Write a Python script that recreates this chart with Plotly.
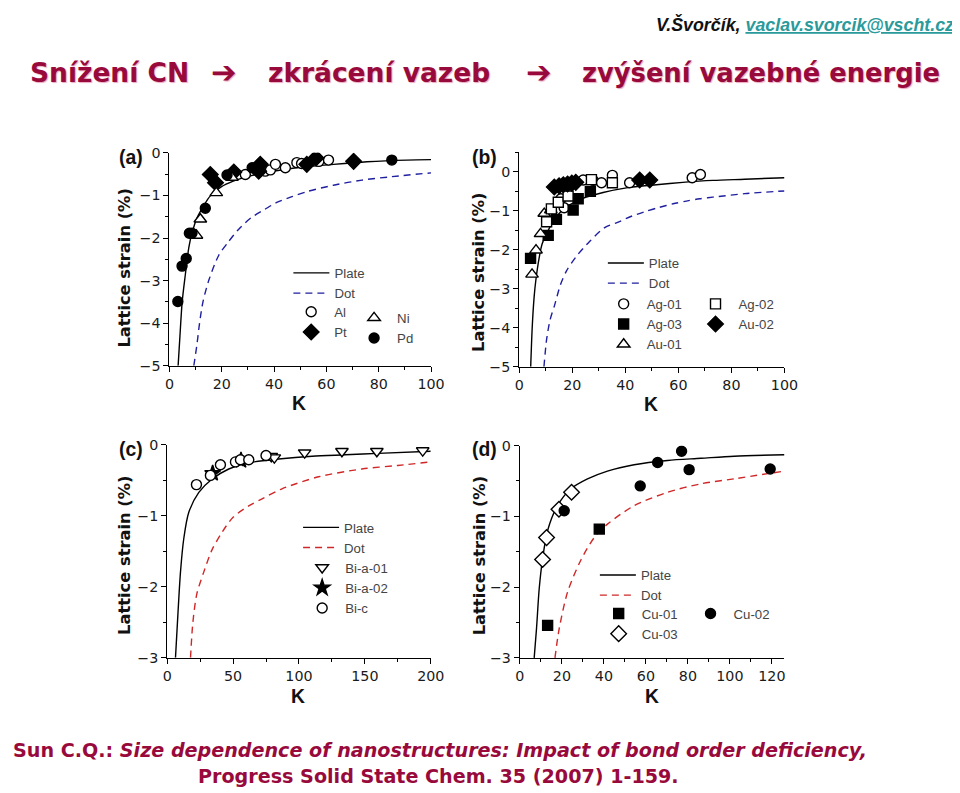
import plotly.graph_objects as go

# Calibration of the photographed page: measured screenshot = S * page + (OX, OY),
# and the page body has an 8px margin. Reference pixel positions are mapped
# back into figure (paper) coordinates with the helpers px / py below.
S, OX, OY, BODY = 0.982, 2.7, 8.3, 8
W, H = 968, 792

# ---------------- panel (a) ----------------
a_plate_k = [3.3, 4.0, 4.85, 6.1, 7.4, 8.66, 10.6, 13.1, 15.6, 19.5, 24.6, 30.9, 37.3, 50, 62.7, 75.5, 90.7, 100]
a_plate_s = [-5, -4.3, -3.5, -2.84, -2.22, -1.87, -1.52, -1.24, -1.01, -0.81, -0.66, -0.54, -0.46, -0.34, -0.27, -0.21, -0.17, -0.16]
a_dot_k = [9.3, 10.5, 11.5, 12.8, 15, 18.8, 22.4, 26.2, 31.3, 36.4, 40.8, 46.8, 52.6, 62.7, 73.6, 85, 100]
a_dot_s = [-5, -4.5, -4.0, -3.5, -3.0, -2.41, -2.1, -1.81, -1.52, -1.33, -1.17, -1.03, -0.91, -0.76, -0.64, -0.56, -0.47]
a_al_k = [29.0, 36.6, 38.6, 40.5, 44.3, 48.7, 50.5, 57.1, 60.8]
a_al_s = [-0.51, -0.43, -0.40, -0.27, -0.35, -0.23, -0.25, -0.20, -0.17]
a_ni_k = [10.3, 11.8, 17.9, 23.9]
a_ni_s = [-1.94, -1.56, -0.94, -0.58]
a_pt_k = [15.6, 17.6, 24.6, 34.1, 34.7, 52.5, 56.0, 70.4]
a_pt_s = [-0.51, -0.70, -0.45, -0.43, -0.27, -0.27, -0.12, -0.20]
a_pd_k = [3.2, 4.8, 6.4, 7.6, 8.6, 13.7, 22.0, 31.6, 33.5, 85.0]
a_pd_s = [-3.49, -2.66, -2.48, -1.89, -1.89, -1.30, -0.52, -0.35, -0.40, -0.17]

# ---------------- panel (b) ----------------
b_plate_k = [4.3, 4.9, 5.6, 6.2, 7.5, 8.6, 10.9, 14.0, 17.8, 24.0, 31.6, 40.4, 51.7, 61.7, 73.0, 85.0, 100]
b_plate_s = [-5, -3.95, -3.2, -2.8, -2.2, -1.85, -1.5, -1.15, -0.9, -0.68, -0.53, -0.41, -0.33, -0.27, -0.22, -0.19, -0.15]
b_dot_k = [9.3, 10.3, 11.6, 13.4, 15.5, 17.8, 21.6, 26.6, 32.2, 36.6, 42.3, 47.9, 52.9, 58.0, 63.0, 68.0, 73.0, 85.0, 100]
b_dot_s = [-5, -4.3, -3.8, -3.4, -2.9, -2.54, -2.16, -1.78, -1.43, -1.31, -1.14, -1.01, -0.91, -0.82, -0.75, -0.69, -0.65, -0.56, -0.49]
b_ag01_k = [15.7, 16.9, 24.1, 27.9, 31.0, 35.1, 41.6, 65.2, 68.3]
b_ag01_s = [-0.69, -0.92, -0.21, -0.22, -0.28, -0.09, -0.28, -0.15, -0.07]
b_ag02_k = [10.3, 12.1, 14.7, 18.4, 27.2, 35.1]
b_ag02_s = [-1.28, -0.95, -0.78, -0.62, -0.20, -0.28]
b_ag03_k = [4.25, 10.9, 14.0, 20.3, 22.2, 26.8]
b_ag03_s = [-2.22, -1.63, -1.22, -0.98, -0.69, -0.50]
b_au01_k = [4.8, 6.3, 8.0, 9.4, 11.9]
b_au01_s = [-2.63, -2.01, -1.59, -1.07, -0.98]
b_au02_k = [13.2, 15.0, 16.6, 18.2, 19.8, 21.3, 45.4, 49.2]
b_au02_s = [-0.39, -0.36, -0.33, -0.31, -0.29, -0.27, -0.21, -0.21]

# ---------------- panel (c) ----------------
c_plate_k = [6.3, 8.1, 10.1, 12.6, 16.4, 24.0, 34.1, 46.7, 59.3, 84.6, 110, 135, 160, 200]
c_plate_s = [-3, -2.4, -1.79, -1.32, -0.95, -0.67, -0.48, -0.34, -0.26, -0.20, -0.16, -0.14, -0.12, -0.09]
c_dot_k = [17.7, 19.5, 22.5, 27.8, 34.0, 41.7, 50.0, 61.9, 72.0, 87.1, 114.9, 147.7, 175, 200]
c_dot_s = [-3, -2.5, -2.1, -1.79, -1.48, -1.23, -1.02, -0.86, -0.76, -0.62, -0.45, -0.34, -0.29, -0.24]
c_bia01_k = [57.0, 79.0, 81.3, 104.3, 132.6, 159.1, 193.9]
c_bia01_s = [-0.21, -0.16, -0.18, -0.11, -0.09, -0.09, -0.08]
c_bia02_k = [34.5, 56.0]
c_bia02_s = [-0.40, -0.22]
c_bic_k = [22.2, 32.8, 40.4, 51.8, 55.6, 61.9, 75.0]
c_bic_s = [-0.56, -0.43, -0.28, -0.24, -0.21, -0.21, -0.15]

# ---------------- panel (d) ----------------
d_plate_k = [6.8, 7.9, 9.2, 10.8, 13.2, 17.9, 24.3, 32.2, 41.7, 54.4, 70.3, 86.2, 102, 126]
d_plate_s = [-3, -2.59, -2.02, -1.6, -1.2, -0.85, -0.61, -0.47, -0.36, -0.27, -0.21, -0.18, -0.15, -0.13]
d_dot_k = [16.7, 18.7, 22.7, 29.0, 35.4, 41.7, 54.4, 70.3, 86.2, 102, 126]
d_dot_s = [-3, -2.59, -2.07, -1.62, -1.30, -1.11, -0.85, -0.66, -0.54, -0.47, -0.36]
d_cu01_k = [13.2, 37.8]
d_cu01_s = [-2.54, -1.18]
d_cu02_k = [21.1, 57.3, 65.6, 77.0, 80.6, 119.2]
d_cu02_s = [-0.92, -0.57, -0.24, -0.08, -0.34, -0.33]
d_cu03_k = [10.8, 12.7, 18.6, 24.6]
d_cu03_s = [-1.61, -1.30, -0.90, -0.66]

# ---------------- texts ----------------
panel_labels = ["(a)", "(b)", "(c)", "(d)"]
y_title = "Lattice strain (%)"
x_title = "K"

BLUE = "#1f1fa0"
RED = "#d02828"
MAROON = "#990a3c"
TEAL = "#2a9a9a"


def px(X):
    return ((X - OX) / S - BODY) / W


def py(Y):
    return 1 - ((Y - OY) / S - BODY) / H


def fs(size):
    return size / S


fig = go.Figure()


def line_trace(k, s, ax, name, color, dash, legend):
    fig.add_trace(go.Scatter(
        x=k, y=s, mode="lines", name=name, xaxis=ax[0], yaxis=ax[1],
        line=dict(color=color, width=1.4, dash=dash, shape="spline", smoothing=0.8),
        legend=legend, hoverinfo="skip"))


def marker_trace(k, s, ax, name, symbol, fill, legend, size=10):
    fig.add_trace(go.Scatter(
        x=k, y=s, mode="markers", name=name, xaxis=ax[0], yaxis=ax[1],
        marker=dict(symbol=symbol, size=size, color=fill,
                    line=dict(color="black", width=1.4)),
        legend=legend))


A = ("x", "y")
B = ("x2", "y2")
C = ("x3", "y3")
D = ("x4", "y4")

# panel (a)
line_trace(a_plate_k, a_plate_s, A, "Plate", "black", "solid", "legend")
line_trace(a_dot_k, a_dot_s, A, "Dot", BLUE, "7px,5px", "legend")
marker_trace(a_al_k, a_al_s, A, "Al", "circle", "white", "legend2")
marker_trace(a_pt_k, a_pt_s, A, "Pt", "diamond", "black", "legend2", size=12)
marker_trace(a_ni_k, a_ni_s, A, "Ni", "triangle-up", "white", "legend3", size=11)
marker_trace(a_pd_k, a_pd_s, A, "Pd", "circle", "black", "legend3")

# panel (b)
line_trace(b_plate_k, b_plate_s, B, "Plate", "black", "solid", "legend4")
line_trace(b_dot_k, b_dot_s, B, "Dot", BLUE, "7px,5px", "legend4")
marker_trace(b_ag01_k, b_ag01_s, B, "Ag-01", "circle", "white", "legend5")
marker_trace(b_ag03_k, b_ag03_s, B, "Ag-03", "square", "black", "legend5")
marker_trace(b_au01_k, b_au01_s, B, "Au-01", "triangle-up", "white", "legend5", size=11)
marker_trace(b_ag02_k, b_ag02_s, B, "Ag-02", "square", "white", "legend6")
marker_trace(b_au02_k, b_au02_s, B, "Au-02", "diamond", "black", "legend6", size=12)

# panel (c)
line_trace(c_plate_k, c_plate_s, C, "Plate", "black", "solid", "legend7")
line_trace(c_dot_k, c_dot_s, C, "Dot", RED, "7px,5px", "legend7")
marker_trace(c_bia01_k, c_bia01_s, C, "Bi-a-01", "triangle-down", "white", "legend8", size=11)
marker_trace(c_bia02_k, c_bia02_s, C, "Bi-a-02", "star", "black", "legend8", size=12)
marker_trace(c_bic_k, c_bic_s, C, "Bi-c", "circle", "white", "legend8")

# panel (d)
line_trace(d_plate_k, d_plate_s, D, "Plate", "black", "solid", "legend9")
line_trace(d_dot_k, d_dot_s, D, "Dot", RED, "7px,5px", "legend9")
marker_trace(d_cu01_k, d_cu01_s, D, "Cu-01", "square", "black", "legend10")
marker_trace(d_cu03_k, d_cu03_s, D, "Cu-03", "diamond", "white", "legend10", size=12)
marker_trace(d_cu02_k, d_cu02_s, D, "Cu-02", "circle", "black", "legend11")

tickfont = dict(family="DejaVu Sans", size=fs(14), color="#1a1a1a")


def axis(domain, rng, dtick, minor_dtick, anchor):
    return dict(domain=domain, range=rng, dtick=dtick, tick0=0, anchor=anchor,
                showline=True, linecolor="black", linewidth=1.2,
                ticks="outside", ticklen=5, tickwidth=1.1, tickcolor="black",
                showgrid=False, zeroline=False, tickfont=tickfont, fixedrange=True,
                minor=dict(dtick=minor_dtick, tick0=0, ticks="outside", ticklen=3,
                           tickwidth=1, tickcolor="black", showgrid=False))


layout = dict(
    width=W, height=H, margin=dict(l=0, r=0, t=0, b=0),
    paper_bgcolor="white", plot_bgcolor="white", showlegend=True,
    xaxis=axis([px(167.3), px(429.3)], [0, 100], 20, 10, "y"),
    yaxis=axis([py(366.7), py(153.3)], [-5, 0], 1, 0.5, "x"),
    xaxis2=axis([px(517.7), px(783.3)], [0, 100], 20, 10, "y2"),
    yaxis2=axis([py(367.7), py(152.8)], [-5, 0.5], 1, 0.5, "x2"),
    xaxis3=axis([px(165), px(429)], [0, 200], 50, 25, "y3"),
    yaxis3=axis([py(659.3), py(446)], [-3, 0], 1, 0.5, "x3"),
    xaxis4=axis([px(518.3), px(783.3)], [0, 126], 20, 10, "y4"),
    yaxis4=axis([py(659.5), py(446.7)], [-3, 0], 1, 0.5, "x4"),
)

legfont = dict(family="Liberation Sans", size=fs(13), color="#444")
leg_pos = {
    "legend": (286.4, 258.5), "legend2": (286.2, 297.5), "legend3": (349.2, 303.5),
    "legend4": (601.4, 248.5), "legend5": (599.2, 289.5), "legend6": (691.2, 289.5),
    "legend7": (296.1, 513.5), "legend8": (297.2, 553.8),
    "legend9": (593.4, 561.2), "legend10": (594.2, 599.8), "legend11": (686.2, 599.8),
}
for name, (lx, ly) in leg_pos.items():
    layout[name] = dict(x=px(lx), y=py(ly), xanchor="left", yanchor="top",
                        bgcolor="rgba(0,0,0,0)", borderwidth=0, font=legfont,
                        itemwidth=36, tracegroupgap=0, traceorder="normal",
                        itemclick=False, itemdoubleclick=False)

fig.update_layout(**layout)

ann = []
# panel labels
for lab, (lx, ly) in zip(panel_labels, [(129, 157), (483, 157), (129, 450), (483, 450)]):
    ann.append(dict(text=lab, x=px(lx), y=py(ly), xref="paper", yref="paper",
                    showarrow=False, xanchor="center", yanchor="middle",
                    font=dict(family="Liberation Sans", size=fs(19), color="#111", weight="bold")))
# y titles
for (tx, ty) in [(122, 269), (477, 273), (122, 557), (478, 557)]:
    ann.append(dict(text=y_title, x=px(tx), y=py(ty), xref="paper", yref="paper",
                    showarrow=False, textangle=-90, xanchor="center", yanchor="middle",
                    font=dict(family="DejaVu Sans", size=fs(16), color="#111", weight="bold")))
# x titles
for (tx, ty) in [(297, 404), (650, 405), (296, 698), (651, 698)]:
    ann.append(dict(text=x_title, x=px(tx), y=py(ty), xref="paper", yref="paper",
                    showarrow=False, xanchor="center", yanchor="middle",
                    font=dict(family="Liberation Sans", size=fs(19), color="#111", weight="bold")))

# slide header
title_font = dict(family="DejaVu Sans", size=fs(26), color=MAROON, weight="bold",
                  shadow="1px 1px 1px #e9a9c0")
title_font_last = dict(title_font, size=fs(25.3))
arrow_font = dict(family="DejaVu Sans", size=fs(30), color=MAROON, weight="bold",
                  shadow="1px 1px 1px #e9a9c0")
for txt, x, anchor, fnt in [("Snížení CN", 26, "left", title_font),
                            ("➔", 222, "center", arrow_font),
                            ("zkrácení vazeb", 264, "left", title_font),
                            ("➔", 537, "center", arrow_font),
                            ("zvýšení vazebné energie", 941, "right", title_font_last)]:
    ann.append(dict(text=txt, x=px(x), y=py(73), xref="paper", yref="paper",
                    showarrow=False, xanchor=anchor, yanchor="middle", font=fnt))

ann.append(dict(text="V.Švorčík, <span style='color:%s'><u>vaclav.svorcik@vscht.cz</u></span>" % TEAL,
                x=px(955), y=py(25), xref="paper", yref="paper", showarrow=False,
                xanchor="right", yanchor="middle",
                font=dict(family="Liberation Sans", size=fs(17.5), color="#111",
                          weight="bold", style="italic")))

cite_font = dict(family="DejaVu Sans", size=fs(18.8), color=MAROON, weight="bold")
ann.append(dict(text="Sun C.Q.: <i>Size dependence of nanostructures: Impact of bond order deficiency,</i>",
                x=px(438.5), y=py(752), xref="paper", yref="paper", showarrow=False,
                xanchor="center", yanchor="middle", font=cite_font))
ann.append(dict(text="Progress Solid State Chem. 35 (2007) 1-159.",
                x=px(437), y=py(778), xref="paper", yref="paper", showarrow=False,
                xanchor="center", yanchor="middle", font=cite_font))

fig.update_layout(annotations=ann)

fig.write_html("out.html")
